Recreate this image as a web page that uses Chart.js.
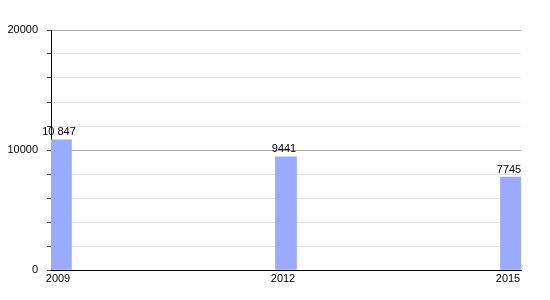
<!DOCTYPE html>
<html><head><meta charset="utf-8">
<script src="https://cdn.jsdelivr.net/npm/chart.js@4/dist/chart.umd.min.js"></script>
<style>html,body{margin:0;padding:0;background:#fff}#wrap{width:550px;height:300px}</style>
</head><body><div id="wrap"><canvas id="c" width="550" height="300"></canvas></div>
<script>
const years = [2009, 2012, 2015];
const values = [10847, 9441, 7745];
const yTicks = [0, 10000, 20000];

function fmt(v){ return v >= 10000 ? String(v).replace(/\B(?=(\d{3})+(?!\d))/g,' ') : String(v); }

const valueLabels = {
  id:'valueLabels',
  afterDatasetsDraw(chart){
    const ctx = chart.ctx;
    const meta = chart.getDatasetMeta(0);
    ctx.save();
    ctx.font = '11px "Liberation Sans", Arial, sans-serif';
    ctx.fillStyle = '#000';
    ctx.textAlign = 'center';
    ctx.textBaseline = 'bottom';
    meta.data.forEach((bar,i)=>{
      ctx.fillText(fmt(values[i]), bar.x - 2, bar.y - 2);
    });
    ctx.restore();
  }
};

new Chart(document.getElementById('c'), {
  type:'bar',
  data:{ datasets:[{ data: years.map((y,i)=>({x:y, y:values[i]})), backgroundColor:'#99aaff', barThickness:21 }] },
  options:{
    responsive:false, animation:false,
    layout:{ padding:{ left:0, right:29, top:30, bottom:0 } },
    plugins:{ legend:{display:false}, tooltip:{enabled:false} },
    scales:{
      x:{
        type:'linear', min: 2008.8667, max: 2015.1333, offset:false,
        afterBuildTicks(s){ s.ticks = years.map(v=>({value:v})); },
        afterFit(s){ s.height = 30; },
        grid:{ display:false, offset:false, drawTicks:false, tickLength:0 },
        border:{ color:'#000', width:1 },
        ticks:{ autoSkip:false, maxRotation:0, padding:2, labelOffset:-3, color:'#000', font:{ size:11, family:'"Liberation Sans", Arial, sans-serif' }, callback:(v)=>String(v) }
      },
      y:{
        min:0, max:20000,
        afterBuildTicks(s){ const t=[]; for(let v=0; v<=20000; v+=2000) t.push({value:v}); s.ticks=t; },
        afterFit(s){ s.width = 51; },
        grid:{ color:(c)=> (c.tick && yTicks.includes(c.tick.value)) ? '#a8a8a8' : '#e2e2e2', tickColor:'#444', tickLength:4 },
        border:{ color:'#000', width:1 },
        ticks:{ padding:9, color:'#000', font:{ size:11, family:'"Liberation Sans", Arial, sans-serif' }, callback:(v)=> yTicks.includes(v) ? String(v) : '' }
      }
    }
  },
  plugins:[valueLabels]
});
</script></body></html>
